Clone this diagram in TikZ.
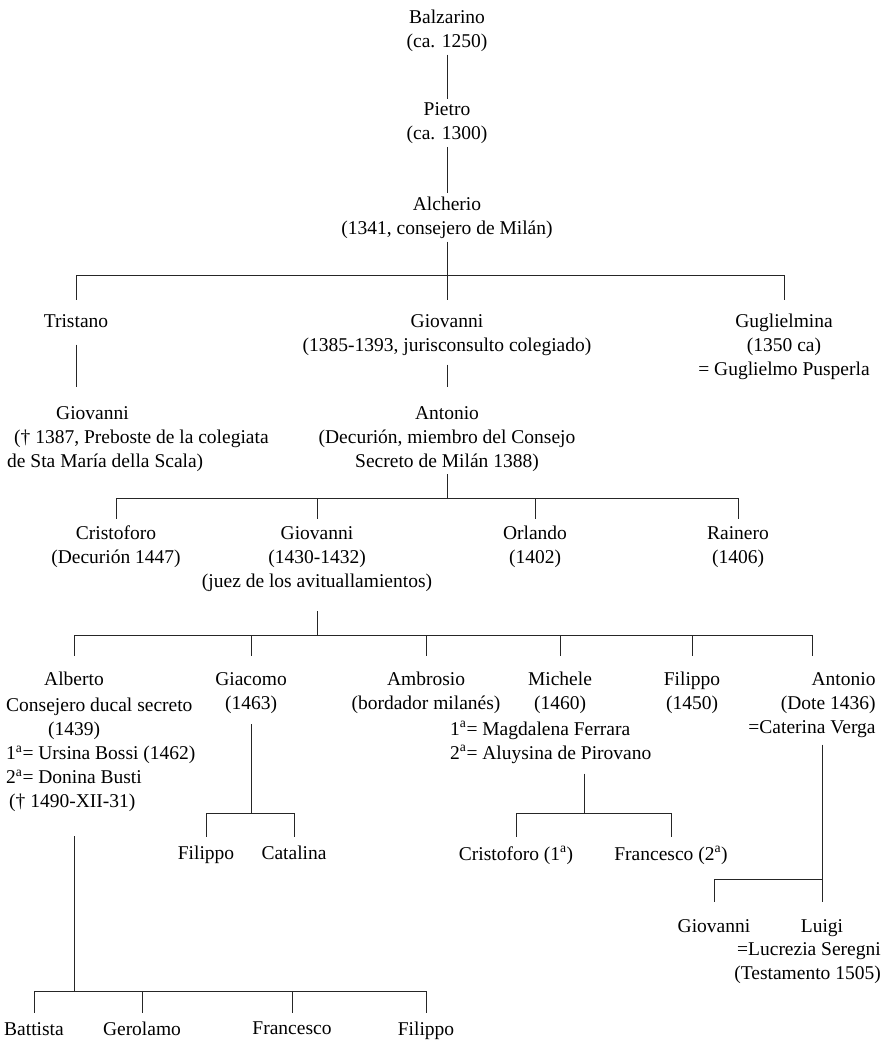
\documentclass[tikz,border=0pt]{standalone}
\usepackage{fontspec}
\setmainfont{Liberation Serif}
\begin{document}
\begin{tikzpicture}[x=1pt,y=-1pt,
		pers/.style={align=center,anchor=north,inner sep=3pt},
		note/.style={inner sep=3pt},
		line/.style={line width=1pt,black!85},
		font=\fontsize{19.5}{24}\selectfont]
		\useasboundingbox (0,0) rectangle (884,1040);
		% first generations
		\node[pers] (balz) at (447,6.5) {Balzarino\\(ca. 1250)};
		\node[pers] (pietro) at (447,99.5) {Pietro\\(ca. 1300)};
		\node[pers] (alch) at (447,193.5) {Alcherio\\(1341, consejero de Milán)};
		\draw[line] (balz) -- (pietro);
		\draw[line] (pietro) -- (alch);
		\coordinate (b1) at (447,276);
		\draw[line] (alch) -- (b1);
		\node[pers] (trist) at (76,311) {Tristano};
		\node[pers] (giovA) at (447,311) {Giovanni\\(1385-1393, jurisconsulto colegiado)};
		\node[pers] (gugl) at (784,311) {Guglielmina\\(1350 ca)\\= Guglielmo Pusperla};
		\foreach \c in {trist,giovA,gugl}
			\draw[line,shorten >=11pt] (b1) -| (\c.north);
		\node[note,align=left,anchor=north west] (giovB) at (4,403) {\hspace*{49pt}Giovanni\\\hspace*{7pt}(† 1387, Preboste de la colegiata\\de Sta María della Scala)};
		\node[pers] (antA) at (447,403) {Antonio\\(Decurión, miembro del Consejo\\Secreto de Milán 1388)};
		\draw[line,shorten <=14pt,shorten >=16pt] (trist) -- (trist |- giovB.north);
		\draw[line,shorten <=6pt,shorten >=16pt] (giovA) -- (antA);
		% sons of Antonio
		\coordinate (b2) at (447,498);
		\draw[line] (antA) -- (b2);
		\node[pers] (cris) at (116,523) {Cristoforo\\(Decurión 1447)};
		\node[pers] (giovC) at (317,523) {Giovanni\\(1430-1432)\\(juez de los avituallamientos)};
		\node[pers] (orl) at (535,523) {Orlando\\(1402)};
		\node[pers] (rain) at (738,523) {Rainero\\(1406)};
		\foreach \c in {cris,giovC,orl,rain}
			\draw[line,shorten >=4pt] (b2) -| (\c.north);
		% sons of Giovanni
		\coordinate (b3) at (317,635);
		\draw[line,shorten <=17pt] (giovC) -- (b3);
		\node[pers] (alb) at (74,669) {Alberto};
		\node[note,align=left,anchor=north west] (albN) at (3,695) {Consejero ducal secreto\\\hspace*{42pt}(1439)\\1\textsuperscript{a}= Ursina Bossi (1462)\\2\textsuperscript{a}= Donina Busti\\\hspace*{3pt}(† 1490-XII-31)};
		\node[pers] (giac) at (251,669) {Giacomo\\(1463)};
		\node[pers] (ambr) at (426,669) {Ambrosio\\(bordador milanés)};
		\node[pers] (mich) at (560,669) {Michele\\(1460)};
		\node[note,align=left,anchor=north west] (michN) at (447,718) {1\textsuperscript{a}= Magdalena Ferrara\\2\textsuperscript{a}= Aluysina de Pirovano};
		\node[pers] (fil) at (692,669) {Filippo\\(1450)};
		\node[pers,align=right] (ant2) at (812,669) {Antonio\\(Dote 1436)\\=Caterina Verga};
		\foreach \c in {alb,giac,ambr,mich,fil,ant2}
			\draw[line,shorten >=13pt] (b3) -| (\c.north);
		% grandchildren
		\coordinate (b4) at (251,813);
		\draw[line,shorten <=8pt] (giac) -- (b4);
		\node[pers] (filB) at (206,843) {Filippo};
		\node[pers] (cata) at (294,843) {Catalina};
		\foreach \c in {filB,cata}
			\draw[line,shorten >=6pt] (b4) -| (\c.north);
		\coordinate (b5) at (584,813);
		\draw[line,shorten <=7pt] (michN.south -| b5) -- (b5);
		\node[pers] (crisB) at (516,843) {Cristoforo (1\textsuperscript{a})};
		\node[pers] (fran) at (671,843) {Francesco (2\textsuperscript{a})};
		\foreach \c in {crisB,fran}
			\draw[line,shorten >=6pt] (b5) -| (\c.north);
		\coordinate (b6) at (822,879);
		\draw[line,shorten <=4pt] (ant2.south -| b6) -- (b6);
		\node[pers] (giovD) at (714,916) {Giovanni};
		\node[pers] (luigi) at (822,916) {Luigi};
		\foreach \c in {giovD,luigi}
			\draw[line,shorten >=14pt] (b6) -| (\c.north);
		\node[note,align=right,anchor=north east] (luigiN) at (884,939) {=Lucrezia Seregni\\(Testamento 1505)};
		\coordinate (b7) at (74,991);
		\draw[line,shorten <=21pt] (albN.south -| b7) -- (b7);
		\node[pers] (batt) at (34,1019) {Battista};
		\node[pers] (gero) at (142,1019) {Gerolamo};
		\node[pers] (franC) at (292,1019) {Francesco};
		\node[pers] (filC) at (426,1019) {Filippo};
		\foreach \c in {batt,gero,franC,filC}
			\draw[line,shorten >=6pt] (b7) -| (\c.north);
\end{tikzpicture}
\end{document}
